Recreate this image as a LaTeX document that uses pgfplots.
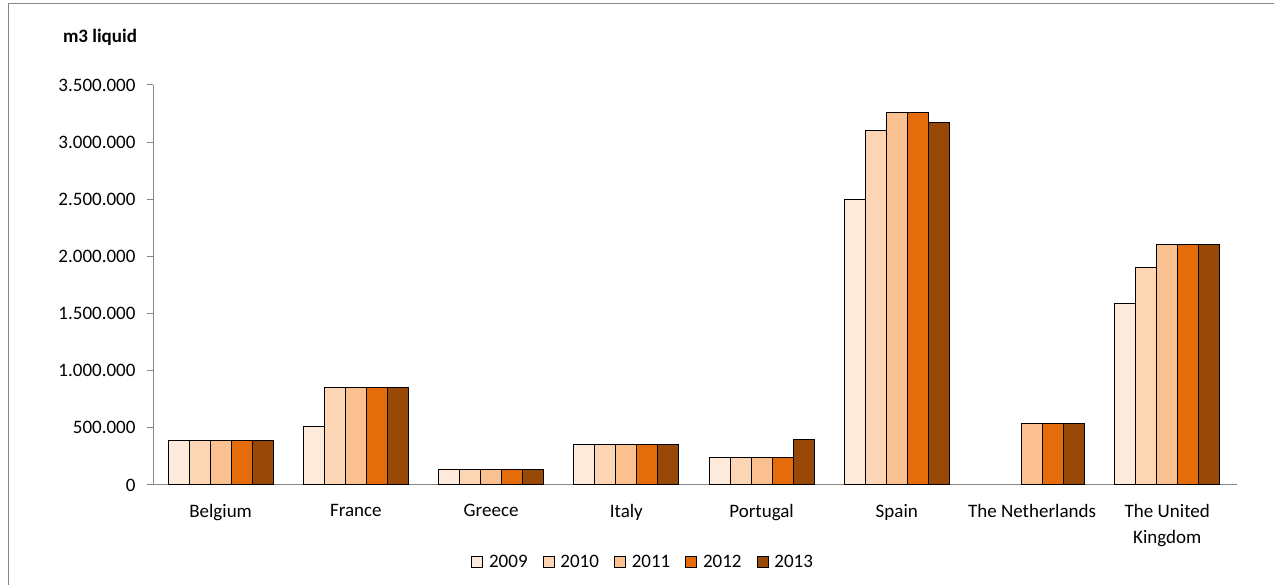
\documentclass[border=0pt]{standalone}
\usepackage{pgfplots}
\pgfplotsset{compat=1.18}
\usepackage{fontspec}
\setmainfont{Carlito}

\definecolor{c2009}{HTML}{FDEADA}
\definecolor{c2010}{HTML}{FCD5B5}
\definecolor{c2011}{HTML}{FAC090}
\definecolor{c2012}{HTML}{E46C0A}
\definecolor{c2013}{HTML}{984807}
\definecolor{axisgray}{HTML}{868686}

\begin{document}
\begin{tikzpicture}[x=1pt,y=1pt]
\useasboundingbox (0,0) rectangle (1274,585);
% chart frame (left and top edges)
\draw[axisgray, line width=1pt] (8,0) -- (8,581) -- (1274,581);
% unit label
\node[font=\fontsize{19}{22}\selectfont\bfseries, anchor=center] at (100,548) {m3 liquid};
\begin{axis}[
  at={(153pt,100pt)}, anchor=south west,
  scale only axis, width=1082pt, height=400pt,
  ybar=0pt, bar width=21pt,
  xmin=-0.5, xmax=7.5, ymin=0, ymax=3500000,
  xtick={0,1,2,3,4,5,6,7},
  xticklabels={Belgium,France,Greece,Italy,Portugal,Spain,The Netherlands,{The United\\Kingdom}},
  xticklabel style={align=center, font=\fontsize{19}{26}\selectfont, anchor=north, yshift=-10pt},
  x tick style={draw=none},
  ytick={0,500000,1000000,1500000,2000000,2500000,3000000,3500000},
  yticklabels={0,500.000,1.000.000,1.500.000,2.000.000,2.500.000,3.000.000,3.500.000},
  scaled y ticks=false,
  yticklabel style={font=\fontsize{19}{22}\selectfont, anchor=east, xshift=-8pt},
  y tick style={axisgray, line width=1pt},
  tick align=outside, major tick length=6pt,
  axis x line*=bottom, axis y line*=left,
  x axis line style={axisgray, line width=1pt, shorten <=-6pt, shorten >=-2pt},
  y axis line style={axisgray, line width=1pt},
  legend columns=5,
  legend style={at={(0.453,-0.1925)}, anchor=center, draw=none,
    font=\fontsize{19}{22}\selectfont,
    /tikz/every odd column/.append style={column sep=4pt},
    /tikz/every even column/.append style={column sep=13pt}},
  legend image code/.code={\draw[#1, draw=black, line width=0.8pt] (0pt,-5.5pt) rectangle (11pt,5.5pt);},
  every axis plot/.append style={draw=black, line width=1pt},
]
\addplot[fill=c2009] coordinates {(0,385000) (1,516000) (2,137000) (3,353000) (4,242000) (5,2495000) (7,1585000)};
\addplot[fill=c2010] coordinates {(0,385000) (1,851000) (2,137000) (3,353000) (4,242000) (5,3104000) (7,1900000)};
\addplot[fill=c2011] coordinates {(0,385000) (1,851000) (2,137000) (3,353000) (4,242000) (5,3256000) (6,541000) (7,2104000)};
\addplot[fill=c2012] coordinates {(0,385000) (1,851000) (2,137000) (3,353000) (4,242000) (5,3256000) (6,541000) (7,2104000)};
\addplot[fill=c2013] coordinates {(0,385000) (1,851000) (2,137000) (3,353000) (4,394000) (5,3169000) (6,541000) (7,2104000)};
\legend{2009,2010,2011,2012,2013}
\end{axis}
\end{tikzpicture}
\end{document}
